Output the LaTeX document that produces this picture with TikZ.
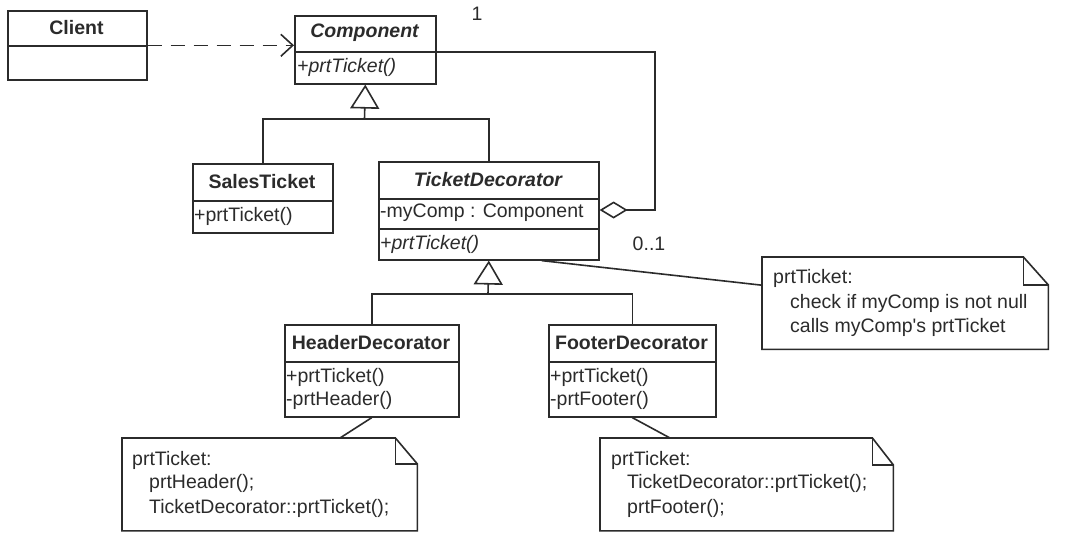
\documentclass[tikz,border=0pt]{standalone}
\usepackage{fontspec}
\setmainfont{Liberation Sans}
\usetikzlibrary{arrows.meta}
\definecolor{ink}{HTML}{2B2B2B}
\begin{document}
\begin{tikzpicture}[x=1pt,y=-1pt,
  ln/.style={line width=1.6pt, draw=ink},
  cls/.style={ln, fill=white, inner sep=0pt, anchor=north west},
  hold/.style={inner sep=0pt, anchor=north west},
  txt/.style={inner sep=0pt, anchor=west, text=ink, font=\fontsize{19.5}{23}\selectfont},
  ttl/.style={inner sep=0pt, anchor=center, text=ink, font=\fontsize{19.5}{23}\selectfont\bfseries},
  ittl/.style={ttl, font=\fontsize{19.5}{23}\selectfont\bfseries\itshape},
  itxt/.style={txt, font=\fontsize{19.5}{23}\selectfont\itshape},
  gen/.style={ln, -{Triangle[open, fill=white, length=24pt, width=29pt]}},
  agg/.style={ln, {Diamond[open, fill=white, length=28pt, width=17pt]}-},
  dep/.style={ln, dash pattern=on 14pt off 9pt, -{Straight Barb[length=12pt, width=22pt]}}
]
\useasboundingbox[fill=white] (0,0) rectangle (1065,533);

% Client
\node[cls, minimum width=139pt, minimum height=69pt] (client) at (7,10) {};
\draw[ln] (7,46) -- (146,46);
\node[ttl] (clientT) at (76.5,28) {Client};

% Component
\node[cls, minimum width=141pt, minimum height=68pt] (comp) at (294,15) {};
\draw[ln] (294,52) -- (435,52);
\node[ittl] (compT) at (364.5,33) {Component};
\node[itxt] (compM) at (297,67) {+prtTicket()};

% SalesTicket
\node[cls, minimum width=140pt, minimum height=69pt] (sales) at (192,163) {};
\draw[ln] (192,201) -- (332,201);
\node[ttl] (salesT) at (262,182) {SalesTicket};
\node[txt] (salesM) at (194,216) {+prtTicket()};

% TicketDecorator
\node[cls, minimum width=220pt, minimum height=98pt] (tdec) at (378,161) {};
\draw[ln] (378,199) -- (598,199);
\draw[ln] (378,229) -- (598,229);
\node[ittl] (tdecT) at (488,180) {TicketDecorator};
\node[txt] (tdecA) at (380,213) {-myComp : Component};
\node[itxt] (tdecM) at (380,244) {+prtTicket()};

% HeaderDecorator
\node[cls, minimum width=174pt, minimum height=92pt] (head) at (284,324) {};
\draw[ln] (284,362) -- (458,362);
\node[ttl] (headT) at (371,343) {HeaderDecorator};
\node[txt] (headM1) at (286,377) {+prtTicket()};
\node[txt] (headM2) at (286,400) {-prtHeader()};

% FooterDecorator
\node[cls, minimum width=167pt, minimum height=92pt] (foot) at (548,324) {};
\draw[ln] (548,362) -- (715,362);
\node[ttl] (footT) at (631.5,343) {FooterDecorator};
\node[txt] (footM1) at (550,377) {+prtTicket()};
\node[txt] (footM2) at (550,400) {-prtFooter()};

% Notes
\node[hold, minimum width=286pt, minimum height=92pt] (n1) at (762,257) {};
\draw[ln, fill=white] (n1.north west) -- ([xshift=-25pt]n1.north east) -- ([yshift=-28pt]n1.north east) -- (n1.south east) -- (n1.south west) -- cycle;
\draw[ln] ([xshift=-25pt]n1.north east) -- ([xshift=-25pt,yshift=-28pt]n1.north east) -- ([yshift=-28pt]n1.north east);
\node[txt] (n1a) at (773,278) {prtTicket:};
\node[txt] (n1b) at (790,303) {check if myComp is not null};
\node[txt] (n1c) at (790,327) {calls myComp\textquotesingle s prtTicket};

\node[hold, minimum width=295pt, minimum height=92.5pt] (n2) at (122,438) {};
\draw[ln, fill=white] (n2.north west) -- ([xshift=-22pt]n2.north east) -- ([yshift=-26pt]n2.north east) -- (n2.south east) -- (n2.south west) -- cycle;
\draw[ln] ([xshift=-22pt]n2.north east) -- ([xshift=-22pt,yshift=-26pt]n2.north east) -- ([yshift=-26pt]n2.north east);
\node[txt] (n2a) at (132,460) {prtTicket:};
\node[txt] (n2b) at (149,483) {prtHeader();};
\node[txt] (n2c) at (149,508) {TicketDecorator::prtTicket();};

\node[hold, minimum width=293pt, minimum height=92.5pt] (n3) at (600,438) {};
\draw[ln, fill=white] (n3.north west) -- ([xshift=-21pt]n3.north east) -- ([yshift=-27pt]n3.north east) -- (n3.south east) -- (n3.south west) -- cycle;
\draw[ln] ([xshift=-21pt]n3.north east) -- ([xshift=-21pt,yshift=-27pt]n3.north east) -- ([yshift=-27pt]n3.north east);
\node[txt] (n3a) at (611,460) {prtTicket:};
\node[txt] (n3b) at (627,483) {TicketDecorator::prtTicket();};
\node[txt] (n3c) at (627,508) {prtFooter();};

% Dependency
\draw[dep] (client.east) -- (client.east -| comp.west);

% Aggregation
\coordinate (aggA) at (655,210);
\coordinate (aggB) at (655,52);
\draw[agg] (tdec.east |- aggA) -- (aggA) -- (aggB) -- (aggB -| comp.east);
\node[txt, anchor=center] (mult1) at (477,14) {1};
\node[txt, anchor=center] (mult2) at (649,244) {0..1};

% Generalizations
\coordinate (j1) at (364.5,119);
\draw[ln] (sales.north) |- (j1) -| (tdec.north);
\draw[gen] (j1) -- (comp.south);
\coordinate (j2) at (488,294);
\draw[ln] (head.north) |- (j2) -| (foot.north);
\draw[gen] (j2) -- (tdec.south);

% Note links
\draw[ln] ([xshift=-58pt]tdec.south east) -- ([yshift=18pt]n1.west);
\draw[ln] (head.south) -- ([xshift=218pt]n2.north west);
\draw[ln] (foot.south) -- ([xshift=70pt]n3.north west);
\end{tikzpicture}
\end{document}
